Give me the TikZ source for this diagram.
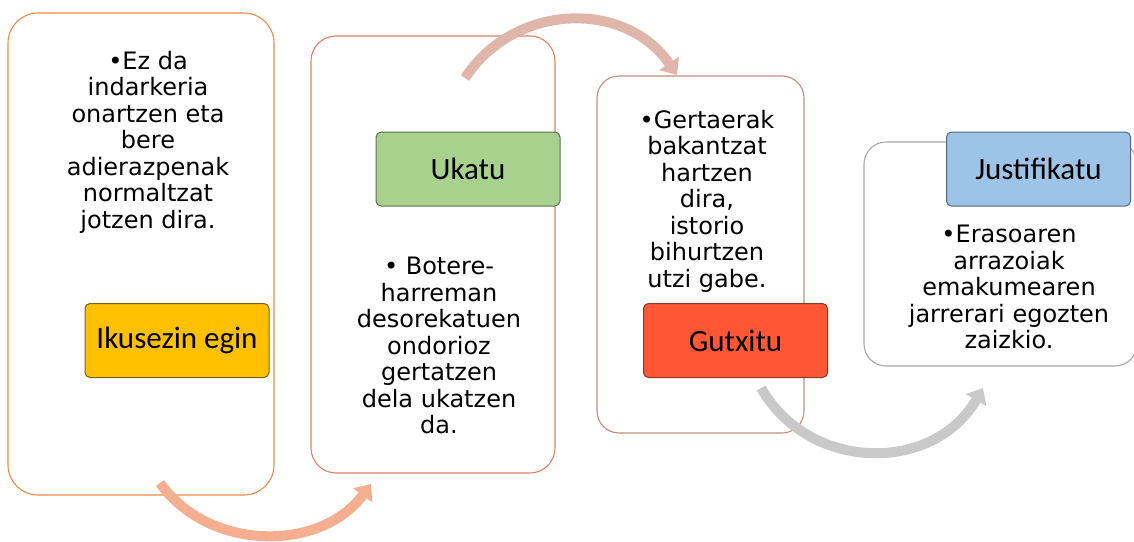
\documentclass[tikz,border=0pt]{standalone}
\usepackage{fontspec}
\setmainfont{DejaVu Sans}
\newfontfamily\labelfont{Carlito}
\usetikzlibrary{arrows.meta}
\definecolor{bordA}{HTML}{EE8A48}
\definecolor{bordB}{HTML}{DD8466}
\definecolor{bordC}{HTML}{C38C80}
\definecolor{bordD}{HTML}{A8A8A8}
\definecolor{fillGold}{HTML}{FFC000}
\definecolor{fillGreen}{HTML}{A9D18E}
\definecolor{fillRed}{HTML}{FF5733}
\definecolor{fillBlue}{HTML}{9DC3E6}
\definecolor{edgeGold}{HTML}{7A6020}
\definecolor{edgeGreen}{HTML}{5E7052}
\definecolor{edgeRed}{HTML}{8A3A22}
\definecolor{edgeBlue}{HTML}{4C6A88}
\definecolor{arrA}{HTML}{F5AF90}
\definecolor{arrB}{HTML}{DFB6A9}
\definecolor{arrC}{HTML}{C9C9C9}
\begin{document}
\begin{tikzpicture}[x=1pt,y=-1pt,
  panel/.style={draw, line width=1.1pt, fill=white, inner sep=0pt},
  tag/.style={draw, line width=1pt, rounded corners=5pt, inner sep=0pt,
    minimum width=184pt, minimum height=74pt,
    font=\labelfont\fontsize{31}{36}\selectfont},
  body/.style={align=center, inner sep=0pt, font=\fontsize{24}{26.5}\selectfont},
  flow/.style={line width=10pt, -{Triangle[width=23pt,length=14pt]}}]
\useasboundingbox (0,0) rectangle (1134,541);
\fill[white] (0,0) rectangle (1134,541);
% panels
\node[panel, draw=bordA, rounded corners=30pt, minimum width=266pt, minimum height=482pt] (b1) at (141,254) {};
\node[panel, draw=bordB, rounded corners=25pt, minimum width=244pt, minimum height=437pt] (b2) at (433,254.5) {};
\node[panel, draw=bordC, rounded corners=22pt, minimum width=207pt, minimum height=357pt] (b3) at (700.5,254.5) {};
\node[panel, draw=bordD, rounded corners=22pt, minimum width=273pt, minimum height=224pt] (b4) at (1000.5,254) {};
% arrow end points
\coordinate (a1s) at (160,483);
\coordinate (a1e) at (371,484);
\coordinate (a2s) at (465,78);
\coordinate (a2e) at (677,75);
\coordinate (a3s) at (761,388);
\coordinate (a3e) at (983,388);
\draw[flow, draw=arrA] (a1s) .. controls (209,552) and (321,552) .. (a1e);
\draw[flow, draw=arrB] (a2s) .. controls (515,2) and (626,0) .. (a2e);
\draw[flow, draw=arrC] (a3s) .. controls (810,473) and (934,473) .. (a3e);
% labels
\node[tag, fill=fillGold, draw=edgeGold] (l1) at (177,340.5) {Ikusezin egin};
\node[tag, fill=fillGreen, draw=edgeGreen] (l2) at (468,169) {Ukatu};
\node[tag, fill=fillRed, draw=edgeRed] (l3) at (735.5,340.5) {Gutxitu};
\node[tag, fill=fillBlue, draw=edgeBlue] (l4) at (1038.5,169) {Justifikatu};
% texts
\node[body] (t1) at (148,142) {•Ez da\\indarkeria\\onartzen eta\\bere\\adierazpenak\\normaltzat\\jotzen dira.};
\node[body] (t2) at (439,345.5) {• Botere-\\harreman\\desorekatuen\\ondorioz\\gertatzen\\dela ukatzen\\da.};
\node[body] (t3) at (707,201) {•Gertaerak\\bakantzat\\hartzen\\dira,\\istorio\\bihurtzen\\utzi gabe.};
\node[body] (t4) at (1009,287) {•Erasoaren\\arrazoiak\\emakumearen\\jarrerari egozten\\zaizkio.};
\end{tikzpicture}
\end{document}
